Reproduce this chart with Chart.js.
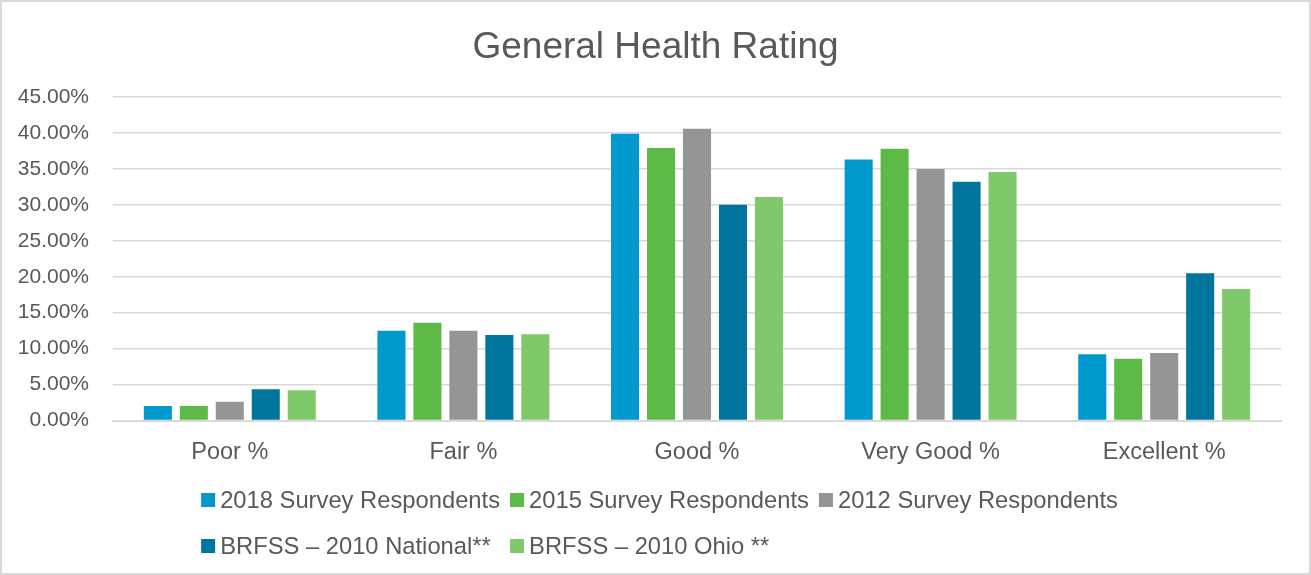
<!DOCTYPE html>
<html>
<head>
<meta charset="utf-8">
<title>General Health Rating</title>
<script src="https://cdn.jsdelivr.net/npm/chart.js@4.4.1/dist/chart.umd.min.js"></script>
<style>
  html, body { margin: 0; padding: 0; background: #fff; }
  #wrap { width: 1311px; height: 575px; position: relative; }
</style>
</head>
<body>
<div id="wrap"><canvas id="healthChart"></canvas></div>
<script>
// ---- data (percent) ----
const chartTitle = "General Health Rating";
const categories = ["Poor %", "Fair %", "Good %", "Very Good %", "Excellent %"];
const seriesNames = [
  "2018 Survey Respondents",
  "2015 Survey Respondents",
  "2012 Survey Respondents",
  "BRFSS \u2013 2010 National**",
  "BRFSS \u2013 2010 Ohio **"
];
const survey2018 = [2.0, 12.5, 39.9, 36.3, 9.2];
const survey2015 = [2.0, 13.6, 37.9, 37.8, 8.6];
const survey2012 = [2.6, 12.5, 40.6, 35.0, 9.4];
const brfssNational = [4.35, 11.9, 30.0, 33.2, 20.5];
const brfssOhio = [4.2, 12.0, 31.1, 34.55, 18.3];
const barColors = ["#0099CE", "#5DBA47", "#959595", "#00769F", "#7FC96B"];

const FONT = "'Liberation Sans', Arial, sans-serif";
const TEXT = "#595959";
const GRID = "#d9d9d9";

// title centred on the whole canvas (the built-in one centres on the padded box)
const centredTitle = {
  id: "centredTitle",
  afterDraw(chart) {
    const ctx = chart.ctx;
    ctx.save();
    ctx.font = "37px " + FONT;
    ctx.fillStyle = TEXT;
    ctx.textAlign = "center";
    ctx.textBaseline = "middle";
    ctx.fillText(chartTitle, chart.width / 2, 48);
    ctx.restore();
  }
};

// Excel style legend: 3 equal columns, rows left aligned inside a centred block
const excelLegend = {
  id: "excelLegend",
  afterDraw(chart) {
    const ctx = chart.ctx;
    const items = chart.data.datasets.map(d => ({ text: d.label, color: d.backgroundColor }));
    ctx.save();
    ctx.font = "23.75px " + FONT;
    const box = 14, gap = 5, spacing = 10, perRow = 3;
    const colW = Math.max(...items.map(i => ctx.measureText(i.text).width)) + box + gap + spacing;
    const blockW = colW * perRow - spacing;
    const startX = chart.width / 2 - blockW / 2 + 4;
    const firstRowY = 500, rowH = 46;
    ctx.textBaseline = "middle";
    ctx.textAlign = "left";
    items.forEach((it, i) => {
      const x = startX + (i % perRow) * colW;
      const y = firstRowY + Math.floor(i / perRow) * rowH;
      ctx.fillStyle = it.color;
      ctx.fillRect(x, y - box / 2, box, box);
      ctx.fillStyle = TEXT;
      ctx.fillText(it.text, x + box + gap, y + 1);
    });
    ctx.restore();
  }
};

const frameBorder = {
  id: "frameBorder",
  afterDraw(chart) {
    const ctx = chart.ctx;
    ctx.save();
    ctx.strokeStyle = GRID;
    ctx.lineWidth = 2;
    ctx.strokeRect(1, 1, chart.width - 2, chart.height - 2);
    ctx.restore();
  }
};

const values = [survey2018, survey2015, survey2012, brfssNational, brfssOhio];

new Chart(document.getElementById("healthChart"), {
  type: "bar",
  data: {
    labels: categories,
    datasets: values.map((data, i) => ({
      label: seriesNames[i],
      data,
      backgroundColor: barColors[i],
      borderWidth: 0,
      categoryPercentage: 0.77,
      barPercentage: 0.78
    }))
  },
  options: {
    responsive: true,
    maintainAspectRatio: false,
    animation: false,
    layout: { padding: { left: 0, right: 30, top: 97, bottom: 109.5 } },
    plugins: {
      legend: { display: false },
      tooltip: { enabled: false },
      title: { display: false }
    },
    scales: {
      x: {
        grid: { display: false },
        border: { display: true, color: GRID, width: 2 },
        ticks: { color: TEXT, font: { family: FONT, size: 23.5 }, padding: 10 },
        afterFit: scale => { scale.height = 45; }
      },
      y: {
        min: 0,
        max: 45,
        ticks: {
          stepSize: 5,
          color: TEXT,
          padding: 24,
          font: { family: FONT, size: 21 },
          callback: v => v.toFixed(2) + "%"
        },
        grid: { color: GRID, lineWidth: 1.5, drawTicks: false },
        border: { display: false },
        afterFit: scale => { scale.width = 113; }
      }
    }
  },
  plugins: [centredTitle, excelLegend, frameBorder]
});
</script>
</body>
</html>
